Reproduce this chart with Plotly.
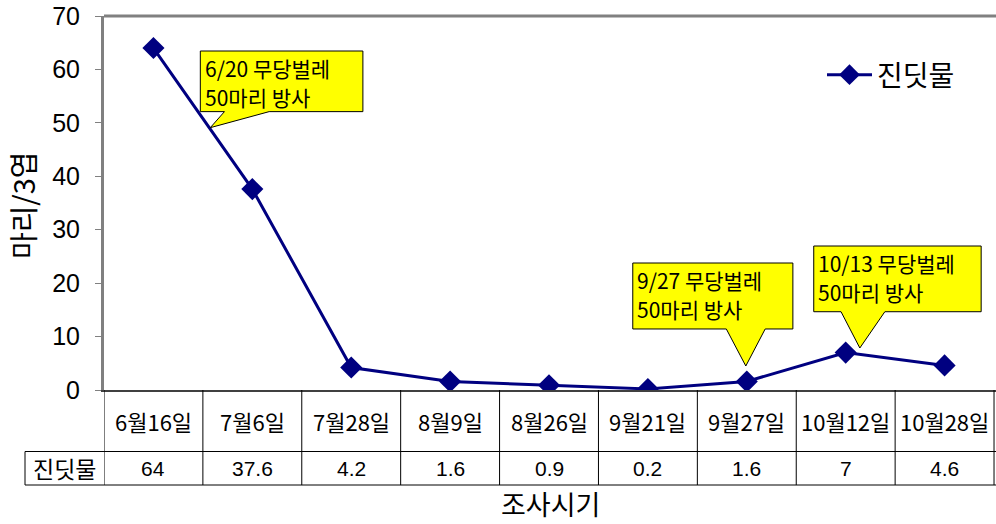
import plotly.graph_objects as go

# ---- data ----
categories = ["6월16일", "7월6일", "7월28일", "8월9일", "8월26일",
              "9월21일", "9월27일", "10월12일", "10월28일"]
series_name = "진딧물"
values = [64, 37.6, 4.2, 1.6, 0.9, 0.2, 1.6, 7, 4.6]
value_labels = ["64", "37.6", "4.2", "1.6", "0.9", "0.2", "1.6", "7", "4.6"]
y_ticks = [0, 10, 20, 30, 40, 50, 60, 70]
callout_lines = [["6/20 무당벌레", "50마리 방사"],
                 ["9/27 무당벌레", "50마리 방사"],
                 ["10/13 무당벌레", "50마리 방사"]]

W, H = 996, 524
L, R, T, B = 104, 0, 16, 134
plot_h = H - T - B
NAVY = "#000080"
KR = "Noto Sans CJK KR"
AR = "Liberation Sans, Arial"
PX_PER_Y = plot_h / 70.0

xs = list(range(len(categories)))
fig = go.Figure()
fig.add_trace(go.Scatter(
    x=xs, y=values, name=series_name, mode="lines+markers",
    line=dict(color=NAVY, width=3),
    marker=dict(symbol="diamond", size=17, color=NAVY),
))

def ypx(py):
    # pixel row -> paper coordinate
    return (H - B - py) / plot_h

shapes = []
annotations = []

# top border of plot area
shapes.append(dict(type="line", xref="paper", yref="paper", x0=0, x1=1, y0=1, y1=1,
                   line=dict(color="#808080", width=3)))

# data table below the plot
row1_y, row_mid, row_bot = ypx(421), ypx(451.5), ypx(485)
row2_y = ypx(468)
n = len(categories)
for k in range(n + 1):
    shapes.append(dict(type="line", xref="x", yref="paper", x0=k - 0.5, x1=k - 0.5,
                       y0=0, y1=row_bot, line=dict(color="#000000", width=1)))
head_x0 = (25 - L) / (W - L - R)
shapes.append(dict(type="line", xref="paper", yref="paper", x0=head_x0, x1=1,
                   y0=row_mid, y1=row_mid, line=dict(color="#000000", width=1)))
shapes.append(dict(type="line", xref="paper", yref="paper", x0=head_x0, x1=1,
                   y0=row_bot, y1=row_bot, line=dict(color="#000000", width=1)))
shapes.append(dict(type="line", xref="paper", yref="paper", x0=head_x0, x1=head_x0,
                   y0=row_mid, y1=row_bot, line=dict(color="#000000", width=1)))

for i, c in enumerate(categories):
    annotations.append(dict(x=i, y=row1_y, xref="x", yref="paper", text=c, showarrow=False,
                            font=dict(family=KR, size=22, color="#000"),
                            xanchor="center", yanchor="middle"))
    annotations.append(dict(x=i, y=row2_y, xref="x", yref="paper", text=value_labels[i],
                            showarrow=False, font=dict(family=AR, size=21, color="#000"),
                            xanchor="center", yanchor="middle"))
annotations.append(dict(x=(head_x0 + 0) / 2, y=row2_y, xref="paper", yref="paper",
                        text=series_name, showarrow=False,
                        font=dict(family=KR, size=23, color="#000"),
                        xanchor="center", yanchor="middle"))

# axis titles
annotations.append(dict(x=0.5, y=ypx(503), xref="paper", yref="paper", text="조사시기",
                        showarrow=False, font=dict(family=KR, size=27, color="#000"),
                        xanchor="center", yanchor="middle"))
annotations.append(dict(x=(22 - L) / (W - L - R), y=ypx(205), xref="paper", yref="paper",
                        text="마리/3엽", textangle=-90, showarrow=False,
                        font=dict(family=KR, size=29, color="#000"),
                        xanchor="center", yanchor="middle"))

# callouts: (box x0, x1, y0, y1, pointer base a, base b, tip x, tip y) in data units
callouts = [
    (0.474, 2.118, 52.1, 63.45, 0.718, 1.17, 0.575, 49.1),
    (4.847, 6.466, 11.42, 23.77, 5.793, 6.186, 5.99, 4.49),
    (6.677, 8.37, 14.65, 26.95, 6.953, 7.396, 7.143, 7.86),
]
for (bx0, bx1, by0, by1, pa, pb, tx, ty), lines in zip(callouts, callout_lines):
    path = (f"M{bx0},{by1} L{bx1},{by1} L{bx1},{by0} L{pb},{by0} "
            f"L{tx},{ty} L{pa},{by0} L{bx0},{by0} Z")
    shapes.append(dict(type="path", xref="x", yref="y", path=path,
                       fillcolor="#FFFF00", line=dict(color="#000000", width=1)))
    for j, ln in enumerate(lines):
        annotations.append(dict(x=bx0 + 0.035, y=by1 - (17 + 29 * j) / PX_PER_Y,
                                xref="x", yref="y", text=ln,
                                showarrow=False, align="left", xanchor="left",
                                yanchor="middle", borderpad=0,
                                font=dict(family=KR, size=21, color="#000")))

fig.update_layout(
    width=W, height=H,
    margin=dict(l=L, r=R, t=T, b=B, pad=0),
    paper_bgcolor="white", plot_bgcolor="white",
    showlegend=True,
    legend=dict(x=(822 - L) / (W - L - R), y=ypx(50), xanchor="left", yanchor="top",
                itemwidth=45,
                bgcolor="rgba(0,0,0,0)", font=dict(family=KR, size=28, color="#000")),
    xaxis=dict(range=[-0.5, 8.52], showgrid=False, zeroline=False, showticklabels=False,
               ticks="", showline=True, linecolor="#404040", linewidth=2, fixedrange=True),
    yaxis=dict(range=[0, 70], tickvals=y_ticks, showgrid=False, zeroline=False,
               showline=True, linecolor="#808080", linewidth=3, ticks="outside",
               ticklen=6, tickcolor="#808080", tickwidth=1, ticklabelstandoff=10,
               tickfont=dict(family=AR, size=25, color="#000")),
    shapes=shapes,
    annotations=annotations,
)

fig.write_html("out.html")
